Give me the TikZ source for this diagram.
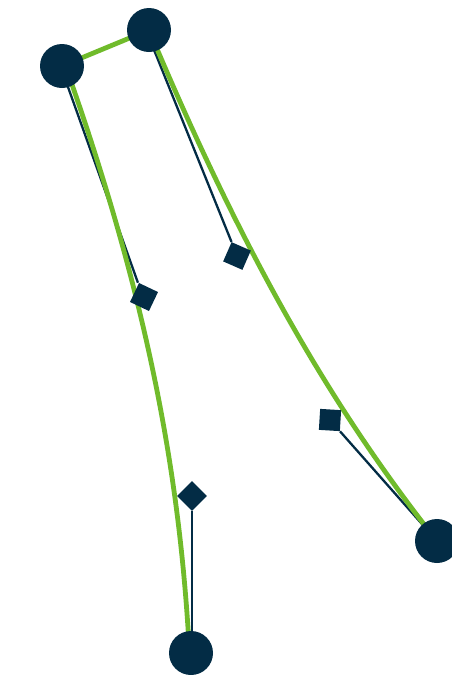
\documentclass[tikz,border=0pt]{standalone}
\begin{document}
\begin{tikzpicture}[x=1pt,y=-1pt,
  navy/.style={fill={rgb,255:red,3;green,44;blue,69}},
  endpt/.style={circle,navy,minimum size=44pt,inner sep=0pt},
  ctrl/.style={rectangle,navy,minimum size=21pt,inner sep=0pt},
  handle/.style={draw={rgb,255:red,3;green,44;blue,69},line width=2.3pt},
  curveline/.style={draw={rgb,255:red,112;green,187;blue,43},line width=4.8pt}]
\useasboundingbox (0,0) rectangle (451,675);
% end points and control points
\coordinate (A) at (62,66);
\coordinate (B) at (149,30);
\coordinate (C) at (437,541);
\coordinate (D) at (191,653);
\coordinate (P1) at (237,256);
\coordinate (P2) at (330,420);
\coordinate (Q1) at (144,297);
\coordinate (Q2) at (192,496);
% markers drawn on a front layer
\pgfdeclarelayer{front}
\pgfsetlayers{main,front}
\begin{pgfonlayer}{front}
\node[endpt] (nA) at (A) {};
\node[endpt] (nB) at (B) {};
\node[endpt] (nC) at (C) {};
\node[endpt] (nD) at (D) {};
\node[ctrl,rotate=-23.7] (nP1) at (P1) {};
\node[ctrl,rotate=-3.5] (nP2) at (P2) {};
\node[ctrl,rotate=-25.5] (nQ1) at (Q1) {};
\node[ctrl,rotate=45] (nQ2) at (Q2) {};
\end{pgfonlayer}
% handles
\path[handle] ([xshift=-3pt]nB.center) -- (nP1.north west);
\path[handle] (nP2.south east) -- (nC.center);
\path[handle] ([xshift=-1.5pt]nA.center) -- ([xshift=-1pt]nQ1.north west);
\path[handle] (nQ2.south west) -- (nQ2.south west |- nD.center);
% curves
\path[curveline] (nA.center) -- (nB.center);
\path[curveline] (nB.center) .. controls (244,256) and (332,408) .. (nC.center);
\path[curveline] ([xshift=3.5pt]nA.center) .. controls (155,318) and (181,496) .. ([xshift=-1.5pt]nD.center);
\end{tikzpicture}
\end{document}
